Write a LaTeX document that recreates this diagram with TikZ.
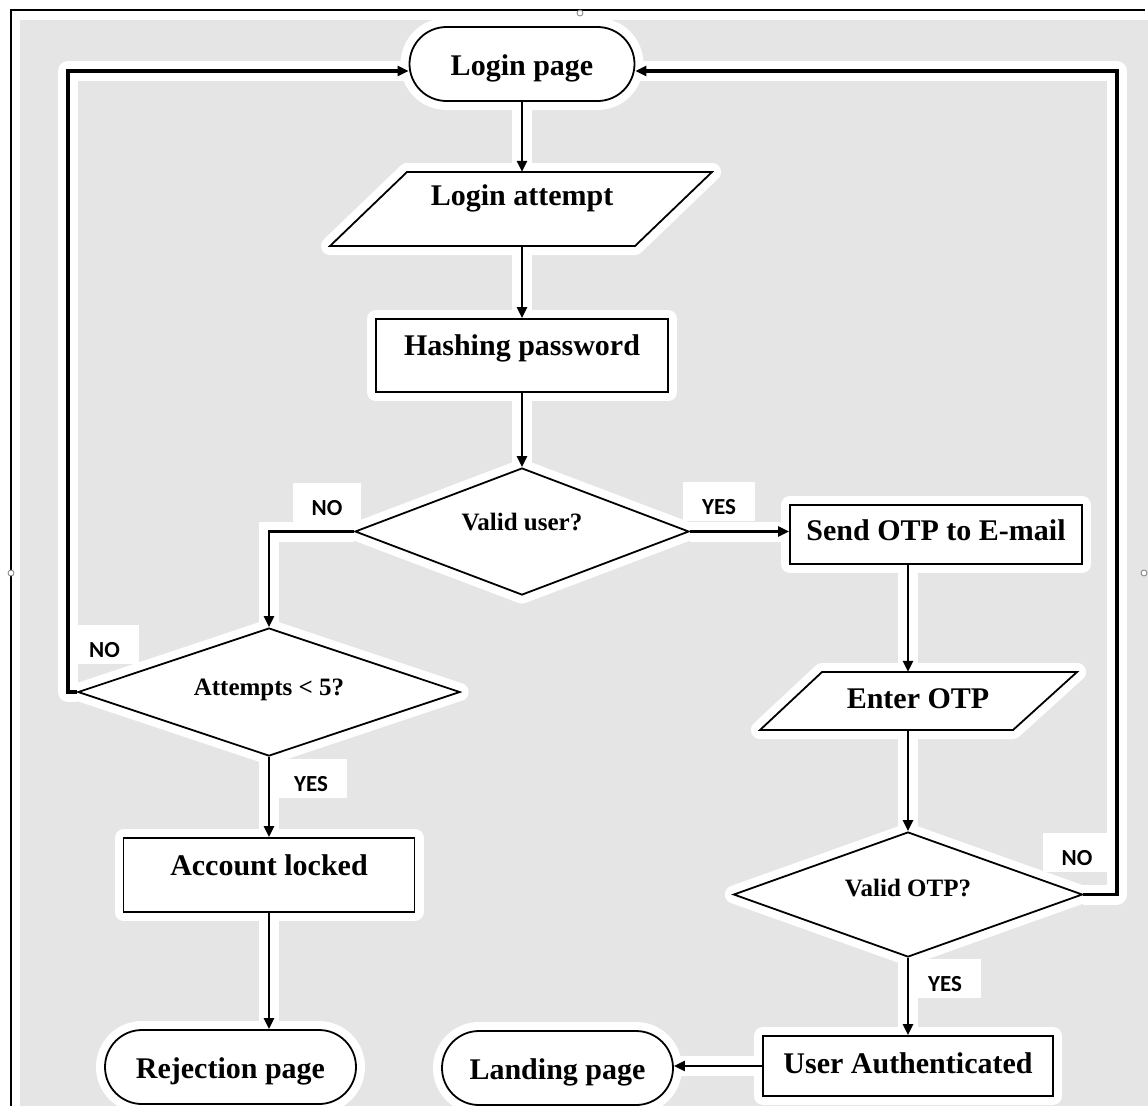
\documentclass[tikz,border=0pt]{standalone}
\usepackage{fontspec}
\setmainfont{Liberation Serif}
\newfontfamily\labfamily{Carlito}
\usetikzlibrary{arrows.meta,shapes.geometric}
\pgfdeclarelayer{bg}\pgfdeclarelayer{halo}\pgfdeclarelayer{front}
\pgfsetlayers{bg,halo,main,front}
\definecolor{bggray}{RGB}{230,229,230}
\newcommand\mainfnt{\fontsize{30}{36}\selectfont\bfseries}
\newcommand\diafnt{\fontsize{25}{30}\selectfont\bfseries}
\newcommand\labfnt{\labfamily\fontsize{23}{28}\selectfont\bfseries}
\tikzset{
  halo/.style={preaction={draw=white,line width=18pt,line join=round}},
  shapebox/.style={halo, draw=black, line width=1.8pt, fill=white},
  procbox/.style={shapebox, rectangle, inner sep=0pt, font=\mainfnt},
  term/.style={shapebox, rectangle, rounded corners=37pt, minimum height=74pt,
    inner sep=0pt, font=\mainfnt, text height=22pt, text depth=0pt},
  decision/.style={shapebox, diamond, inner sep=0pt, font=\diafnt},
  iotext/.style={rectangle, inner sep=0pt, font=\mainfnt},
  parashape/.style={shapebox, line join=miter},
  lab/.style={fill=white, inner xsep=19pt, inner ysep=0pt, text height=32pt,
    text depth=7pt, font=\labfnt, anchor=base},
}
\newcommand\allconnectors{%
  \draw[conn] (login) -- (att);
  \draw[conn] (att) -- (hash);
  \draw[conn] (hash) -- (vu);
  \draw[conn] (vu.west) -| (att5.north);
  \draw[conn] (vu.east) -- (vu.east -| send.west);
  \draw[conn] (vo.north |- send.south) -- (vo.north |- eotp.north);
  \draw[conn] (vo.north |- eotp.south) -- (vo.north);
  \draw[backline] (vo.east) -| (rloop) -- (rloop -| login.east);
  \draw[backline] (att5.west) -| (lloop) -- (lloop -| login.west);
  \draw[conn] (att5.south) -- (lock.north);
  \draw[conn] (lock.south) -- (lock.south |- rej.north);
  \draw[conn] (vo.south) -- (ua.north);
  \draw[conn] (ua.west) -- (ua.west -| land.east);
}
\begin{document}
\begin{tikzpicture}[x=1pt,y=-1pt]
\useasboundingbox (0,0) rectangle (1148,1106);
\begin{pgfonlayer}{bg}
  \fill[bggray] (20,20) rectangle (1148,1106);
  \draw[line width=2pt] (1145,10) -- (11,10) -- (11,1106);
  \draw[gray, line width=0.8pt, fill=white] (580,13) circle (3pt);
  \draw[gray, line width=0.8pt, fill=white] (11,573) circle (3pt);
  \draw[gray, line width=0.8pt, fill=white] (1144,573) circle (3pt);
\end{pgfonlayer}

% terminals
\node[term, minimum width=225pt] (login) at (522,64) {Login page};
\node[term, minimum width=251pt] (rej) at (230.5,1067) {Rejection page};
\node[term, minimum width=231pt] (land) at (557.5,1068) {Landing page};

% input/output parallelograms
\draw[parashape, shift={(522,209)}] (-192,37) -- (-115,-37) -- (190,-37) -- (113,37) -- cycle;
\node[iotext, minimum width=305pt, minimum height=74pt, text height=20pt, text depth=28pt] (att) at (522,209) {Login attempt};
\draw[parashape, shift={(918,701)}] (-158,29) -- (-96,-29) -- (159,-29) -- (95,29) -- cycle;
\node[iotext, minimum width=255pt, minimum height=58pt, text height=20pt, text depth=6pt] (eotp) at (918,701) {Enter OTP};

% process boxes
\node[procbox, minimum width=292pt, minimum height=73pt, text height=20pt, text depth=20pt] (hash) at (522,355.5) {Hashing password};
\node[procbox, minimum width=292pt, minimum height=59pt, text height=20pt, text depth=9pt] (send) at (936,534.5) {Send OTP to E-mail};
\node[procbox, minimum width=291pt, minimum height=74pt, text height=20pt, text depth=20pt] (lock) at (269,875) {Account locked};
\node[procbox, minimum width=290pt, minimum height=60pt, text height=20pt, text depth=6pt] (ua) at (908,1066) {User Authenticated};

% decisions
\node[decision, aspect=2.6, minimum width=334pt, minimum height=127pt, text height=17pt, text depth=20pt] (vu) at (522,531.5) {Valid user?};
\node[decision, aspect=3, minimum width=382pt, minimum height=128pt, text height=17pt, text depth=11pt] (att5) at (269,692) {Attempts < 5?};
\node[decision, aspect=2.8, minimum width=349pt, minimum height=125pt, text height=17pt, text depth=14pt] (vo) at (908,894.5) {Valid OTP?};

% loop corners
\coordinate (rloop) at (1117,71);
\coordinate (lloop) at (68,71);

% labels
\node[lab] (lno1) at (327,515) {NO};
\node[lab] (lyes1) at (719,514) {YES};
\node[lab] (lno2) at (104.5,657) {NO};
\node[lab] (lyes2) at (311,791) {YES};
\node[lab] (lno3) at (1077,865) {NO};
\node[lab] (lyes3) at (945,991) {YES};

% connector halos
\begin{pgfonlayer}{halo}
  \tikzset{conn/.style={draw=white, line width=20pt},
           backline/.style={draw=white, line width=20pt, line join=round}}
  \allconnectors
\end{pgfonlayer}
% connector lines
\begin{pgfonlayer}{front}
  \tikzset{conn/.style={draw=black, line width=2.7pt, -{Triangle[length=11pt,width=10pt]}},
           backline/.style={draw=black, line width=3.6pt, line join=miter, -{Triangle[length=11pt,width=10pt]}}}
  \allconnectors
\end{pgfonlayer}
\end{tikzpicture}
\end{document}
